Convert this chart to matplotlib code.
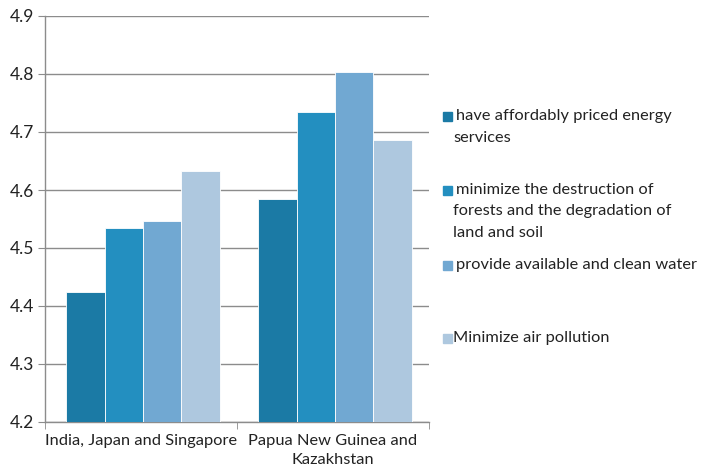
import matplotlib
matplotlib.use("Agg")
import matplotlib.pyplot as plt
from matplotlib.patches import Rectangle
import numpy as np

plt.rcParams['font.family'] = ['Lato', 'DejaVu Sans']

categories = ["India, Japan and Singapore", "Papua New Guinea and\nKazakhstan"]
series_names = [
    "have affordably priced energy\nservices",
    "minimize the destruction of\nforests and the degradation of\nland and soil",
    "provide available and clean water",
    "Minimize air pollution",
]
values = [
    [4.425, 4.585],
    [4.534, 4.735],
    [4.546, 4.803],
    [4.633, 4.686],
]
colors = ["#1b7aa5", "#238fc0", "#71a8d2", "#aec8df"]
yticks = [4.2, 4.3, 4.4, 4.5, 4.6, 4.7, 4.8, 4.9]

fig = plt.figure(figsize=(7.04, 4.70), dpi=100)
ax = fig.add_axes([45 / 704, 1 - 422 / 470, 384 / 704, 406 / 470])

x = np.arange(len(categories))
w = 0.2
for i, (vals, c) in enumerate(zip(values, colors)):
    ax.bar(x + (i - 1.5) * w + 0.01, np.array(vals) - 4.2, width=w, bottom=4.2,
           color=c, edgecolor="white", linewidth=0.6, zorder=3)

ax.set_xlim(-0.5, 1.5)
ax.set_ylim(4.2, 4.9)
ax.set_yticks(yticks)
ax.set_yticklabels([f"{t:.1f}" for t in yticks], fontsize=12.5, color="#222222")
ax.yaxis.grid(True, color="#8c8c8c", linewidth=1, zorder=0)
ax.tick_params(axis="y", length=5, color="#8c8c8c", pad=3)

ax.set_xticks(x)
labels = ax.set_xticklabels(categories, fontsize=11.8, color="#222222", linespacing=1.45)
labels[1].set_x(1.02)
ax.set_xticks([-0.5, 0.5, 1.5], minor=True)
ax.tick_params(axis="x", which="major", length=0, pad=9)
ax.tick_params(axis="x", which="minor", length=5, color="#8c8c8c")

for s in ["top", "right"]:
    ax.spines[s].set_visible(False)
for s in ["left", "bottom"]:
    ax.spines[s].set_color("#8c8c8c")
    ax.spines[s].set_linewidth(1)

# Legend drawn as squares with wrapped labels
legend_y = [116, 190, 265, 338]
for name, c, yp in zip(series_names, colors, legend_y):
    sq = 9
    fig.patches.append(Rectangle((443 / 704, 1 - (yp + sq / 2) / 470), sq / 704, sq / 470,
                                 transform=fig.transFigure, color=c))
    lines = name.split("\n")
    first_x = 456 if name != series_names[-1] else 453
    fig.text(first_x / 704, 1 - yp / 470, lines[0], fontsize=11.8, va="center",
             ha="left", color="#222222")
    for k, ln in enumerate(lines[1:], start=1):
        fig.text(453 / 704, 1 - (yp + 21.5 * k) / 470, ln, fontsize=11.8,
                 va="center", ha="left", color="#222222")

fig.savefig("out.png", dpi=100)
